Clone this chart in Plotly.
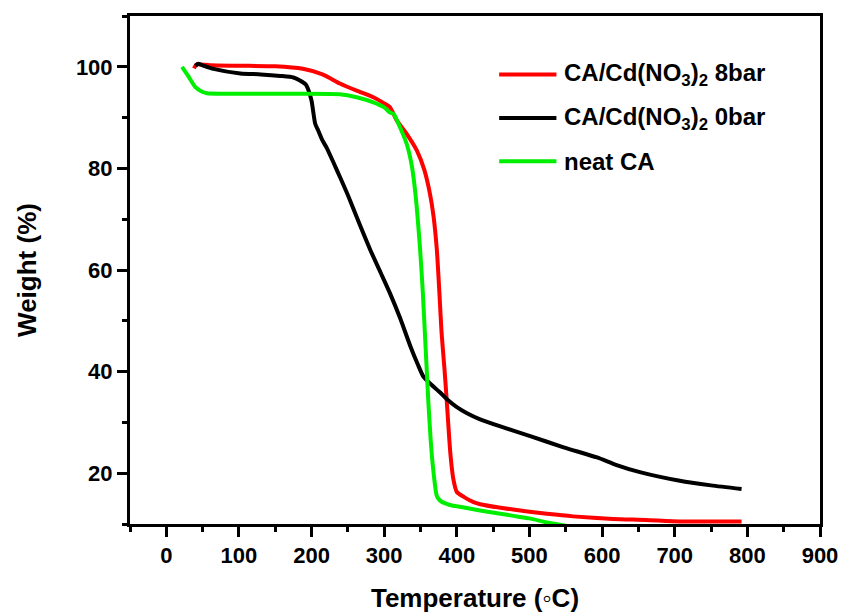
import plotly.graph_objects as go

# Thermogravimetric curves: temperature (°C) vs. residual weight (%)
t_8bar = [38, 41, 44, 60, 100, 150, 188, 215, 239, 262, 285, 300, 308, 317.5, 330, 345, 355, 363, 368,
          372.5, 376, 379, 383, 386, 391, 395, 400, 410, 423, 432, 460, 500, 524, 560, 615, 660, 707, 750, 792]
w_8bar = [99.7, 100.4, 100.5, 100.3, 100.2, 100.1, 99.6, 98.5, 96.7, 95.3, 94.0, 92.8, 92.0, 89.4, 87.0, 83.5, 79.8, 75.0, 70.5,
          63.9, 55.5, 47.6, 40.5, 34.5, 24.0, 19.0, 16.3, 15.3, 14.3, 13.9, 13.2, 12.4, 12.0, 11.5, 11.0, 10.8, 10.5, 10.5, 10.5]

t_0bar = [40, 44, 50, 65, 102, 130, 157, 175, 184, 192, 196, 200, 205, 209, 215, 221, 230, 240, 253, 267, 281, 295, 308, 322,
          336, 346, 354, 365, 377, 386, 400, 414, 432, 460, 501, 547, 593, 620, 652, 707, 750, 792]
w_0bar = [100.2, 100.6, 100.3, 99.6, 98.7, 98.5, 98.2, 97.9, 97.3, 96.5, 95.3, 93.3, 88.8, 87.5, 85.5, 84.0, 81.2, 78.0, 73.7, 68.7, 63.9, 59.5, 55.4, 50.5,
          45.0, 41.5, 39.0, 37.4, 35.9, 34.6, 33.0, 31.8, 30.6, 29.2, 27.3, 25.1, 23.1, 21.6, 20.2, 18.5, 17.6, 16.9]

t_neat = [21.6, 30, 40, 48, 56, 80, 120, 180, 239, 262, 285, 300, 308, 313, 322, 331, 338, 343, 349.5, 353, 356, 358.5,
          360.6, 364, 367, 372.5, 377, 385, 395, 400, 430, 460, 478, 500, 524, 540, 556]
w_neat = [100.0, 98.2, 96.0, 95.2, 94.8, 94.7, 94.7, 94.7, 94.6, 94.0, 93.0, 92.0, 91.0, 90.7, 88.0, 84.8, 80.5, 75.0, 63.9, 56.0, 47.6, 40.5,
          34.5, 26.5, 21.4, 15.5, 14.6, 14.0, 13.6, 13.5, 12.7, 12.0, 11.6, 11.1, 10.3, 9.9, 9.5]

series = [
    ("CA/Cd(NO<sub>3</sub>)<sub>2</sub> 8bar", t_8bar, w_8bar, "#ff0000"),
    ("CA/Cd(NO<sub>3</sub>)<sub>2</sub> 0bar", t_0bar, w_0bar, "#000000"),
    ("neat CA", t_neat, w_neat, "#00ee00"),
]

x_range = [-50, 900]
y_range = [10, 110]
x_ticks = list(range(0, 901, 100))
y_ticks = [20, 40, 60, 80, 100]

FONT = "Liberation Sans, Arial, sans-serif"

fig = go.Figure()
for name, t, w, color in series:
    fig.add_trace(go.Scatter(x=t, y=w, mode="lines", name=name, showlegend=False,
                             line=dict(color=color, width=4, shape="spline", smoothing=0.6)))

# Hand-built legend: long line samples followed by labels
legend_y = [0.885, 0.799, 0.714]
for (name, _, _, color), ly in zip(series, legend_y):
    fig.add_shape(type="line", xref="paper", yref="paper", x0=0.535, x1=0.618, y0=ly, y1=ly,
                  line=dict(color=color, width=4))
    fig.add_annotation(xref="paper", yref="paper", x=0.626, y=ly, xanchor="left", yanchor="middle",
                       text=name, showarrow=False,
                       font=dict(family=FONT, size=24, color="black", weight="bold"))

axis_common = dict(showline=True, linecolor="black", linewidth=3, showgrid=False, zeroline=False,
                   mirror=True, ticks="outside", tickcolor="black", tickwidth=3, automargin=False,
                   tickfont=dict(family=FONT, size=22, color="black", weight="bold"))

fig.update_xaxes(range=x_range, tickvals=x_ticks, ticklen=10,
                 minor=dict(dtick=50, ticks="outside", ticklen=5, tickwidth=3, tickcolor="black"),
                 title=dict(text="Temperature (\u25e6C)",
                            font=dict(family=FONT, size=26, color="black", weight="bold"),
                            standoff=22),
                 **axis_common)
fig.update_yaxes(range=y_range, tickvals=y_ticks, ticklen=10,
                 minor=dict(dtick=10, ticks="outside", ticklen=5, tickwidth=3, tickcolor="black"),
                 title=dict(text="Weight (%)",
                            font=dict(family=FONT, size=26, color="black", weight="bold"),
                            standoff=32),
                 **axis_common)

fig.update_layout(width=845, height=614, margin=dict(l=130, r=25, t=16, b=90),
                  plot_bgcolor="white", paper_bgcolor="white", showlegend=False,
                  font=dict(family=FONT, color="black"))

fig.write_html("out.html")
